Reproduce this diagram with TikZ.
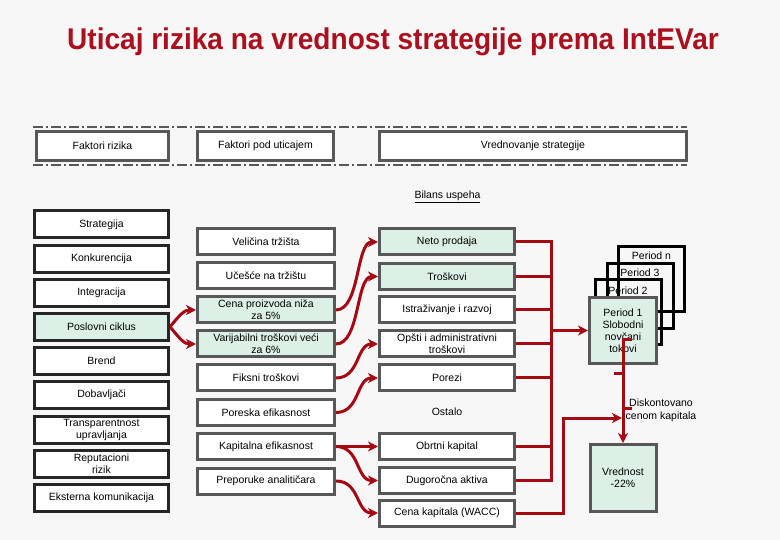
\documentclass[tikz,border=0pt]{standalone}
\usepackage{fontspec}
\usepackage{graphicx}
\setmainfont{Liberation Sans}
\usetikzlibrary{arrows.meta}
\definecolor{bgc}{RGB}{247,247,247}
\definecolor{mint}{RGB}{221,240,232}
\definecolor{gborder}{RGB}{88,88,88}
\definecolor{dborder}{RGB}{38,38,38}
\definecolor{lred}{RGB}{165,10,20}
\definecolor{tred}{RGB}{172,16,30}
\begin{document}
\begin{tikzpicture}[x=1pt,y=-1pt,
  every node/.style={font=\fontsize{10.5}{12}\selectfont, inner sep=1pt},
  lbox/.style={draw=dborder, line width=3pt, fill=white, minimum width=134pt, minimum height=27pt, align=center},
  mbox/.style={draw=gborder, line width=3pt, fill=white, minimum width=137pt, minimum height=26pt, align=center},
  rbox/.style={draw=gborder, line width=3pt, fill=white, minimum width=135pt, minimum height=26pt, align=center},
  hbox/.style={draw=gborder, line width=3pt, fill=white, minimum height=29pt, align=center},
  pbox/.style={draw=black, line width=3pt, minimum width=66pt, minimum height=65pt},
  sqbox/.style={draw=gborder, line width=3pt, fill=mint, minimum width=66pt, minimum height=66pt, align=center},
  hl/.style={fill=mint},
  sep/.style={draw=gborder, line width=2pt, dash pattern=on 10pt off 3pt on 2pt off 3pt},
  redline/.style={draw=lred, line width=3pt},
  arr/.style={redline, -{Stealth[length=10pt,width=10pt,inset=3pt]}}
]
\fill[bgc] (0,0) rectangle (780,540);
\useasboundingbox (0,0) rectangle (780,540);

% title
\node[anchor=base, text=tred, font=\fontsize{30}{36}\selectfont\bfseries] (title) at (393,50)
  {\scalebox{0.935}[1]{Uticaj rizika na vrednost strategije prema IntEVar}};

% header
\draw[sep] (33,127) -- (687,127);
\draw[sep] (33,165) -- (687,165);
\node[hbox, minimum width=132pt] (h1) at (102.5,146) {Faktori rizika};
\node[hbox, minimum width=136pt] (h2) at (265.5,146) {Faktori pod uticajem};
\node[hbox, minimum width=307pt] (h3) at (533,146) {Vrednovanje strategije};
\node (bil) at (447.5,197) {\underline{Bilans uspeha}};

% left column
\node[lbox] (l1) at (101.5,224.5) {Strategija};
\node[lbox] (l2) at (101.5,258.6) {Konkurencija};
\node[lbox] (l3) at (101.5,292.7) {Integracija};
\node[lbox,hl] (l4) at (101.5,326.8) {Poslovni ciklus};
\node[lbox] (l5) at (101.5,360.9) {Brend};
\node[lbox] (l6) at (101.5,395) {Dobavljači};
\node[lbox] (l7) at (101.5,429.5) {Transparentnost\\upravljanja};
\node[lbox] (l8) at (101.5,463.5) {Reputacioni\\rizik};
\node[lbox] (l9) at (101.5,497.5) {Eksterna komunikacija};

% middle column
\node[mbox] (m1) at (266,241.5) {Veličina tržišta};
\node[mbox] (m2) at (266,276) {Učešće na tržištu};
\node[mbox,hl] (m3) at (266,310) {Cena proizvoda niža\\za 5\%};
\node[mbox,hl] (m4) at (266,344) {Varijabilni troškovi veći\\za 6\%};
\node[mbox] (m5) at (266,378) {Fiksni troškovi};
\node[mbox] (m6) at (266,412.5) {Poreska efikasnost};
\node[mbox] (m7) at (266,446.5) {Kapitalna efikasnost};
\node[mbox] (m8) at (266,481) {Preporuke analitičara};

% right column
\node[rbox,hl] (r1) at (447,242) {Neto prodaja};
\node[rbox,hl] (r2) at (447,276.5) {Troškovi};
\node[rbox] (r3) at (447,310) {Istraživanje i razvoj};
\node[rbox] (r4) at (447,344) {Opšti i administrativni\\troškovi};
\node[rbox] (r5) at (447,378) {Porezi};
\node (ost) at (447,412) {Ostalo};
\node[rbox] (r6) at (447,446.5) {Obrtni kapital};
\node[rbox] (r7) at (447,480.5) {Dugoročna aktiva};
\node[rbox] (r8) at (447,513) {Cena kapitala (WACC)};

% periods
\node[pbox] (pn) at (651.5,279) {};
\node[pbox] (p3) at (640,296) {};
\node[pbox] (p2) at (628,312.5) {};
\node (tn) at ([yshift=-11pt]pn.north) {Period n};
\node (t3) at ([yshift=-11pt]p3.north) {Period 3};
\node (t2) at ([yshift=-12pt]p2.north) {Period 2};
\node[sqbox, minimum width=67pt] (p1) at (623,330.5) {Period 1\\Slobodni\\novčani\\tokovi};

\node[sqbox, minimum height=67pt] (v) at (623,478) {Vrednost\\-22\%};
\node[align=center, font=\fontsize{10.5}{13}\selectfont] (disk) at (661,410.5) {Diskontovano\\cenom kapitala};

% curved connectors
\draw[arr] (l4.east) .. controls +(10,-12) and +(-12,0) .. (m3.west);
\draw[arr] (l4.east) .. controls +(10,12) and +(-12,0) .. (m4.west);
\draw[arr] (m3.east) .. controls +(24,0) and +(-22,0) .. (r1.west);
\draw[arr] (m4.east) .. controls +(24,0) and +(-22,0) .. (r2.west);
\draw[arr] (m5.east) .. controls +(24,0) and +(-22,0) .. (r4.west);
\draw[arr] (m6.east) .. controls +(24,0) and +(-22,0) .. (r5.west);
\draw[arr] (m7.east) -- (r6.west);
\draw[arr] (m7.east) .. controls +(24,0) and +(-22,0) .. (r7.west);
\draw[arr] (m8.east) .. controls +(24,0) and +(-22,0) .. (r8.west);

% bus
\coordinate (bx) at (551,0);
\draw[redline, line join=miter] (r1.east) -- (r1.east -| bx) -- (r7.east -| bx) -- (r7.east);
\foreach \n in {r2,r3,r4,r5,r6} {\draw[redline] (\n.east) -- (\n.east -| bx);}
\draw[arr] (p1.west -| bx) -- (p1.west);

% discount path
\coordinate (hk) at (632,340);
\draw[arr] (hk) -- (hk -| v.north) -- (v.north);
\draw[redline] (614,374) -- (623,374);
\draw[redline] (623,408) -- (632,408);
\coordinate (dk) at (622,418);
\draw[arr, line join=miter] (r8.east) -- ++(47,0) |- (dk);
\end{tikzpicture}
\end{document}
